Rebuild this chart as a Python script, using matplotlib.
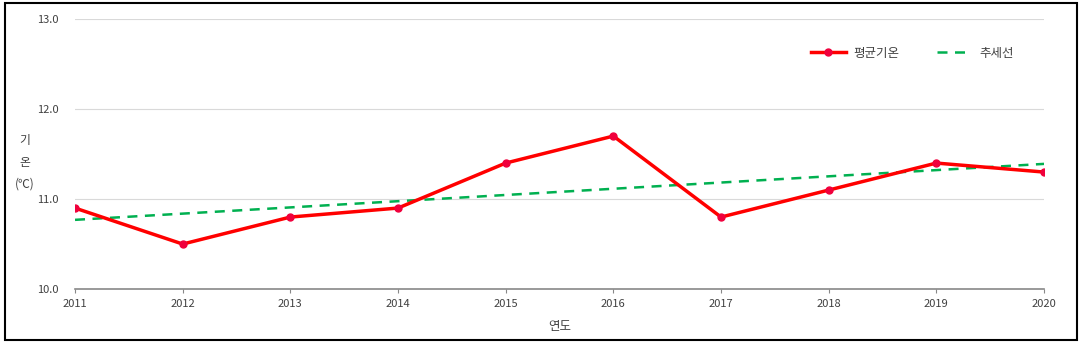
import numpy as np
import matplotlib.pyplot as plt
from matplotlib.patches import Rectangle

plt.rcParams['font.family'] = ['Noto Sans CJK KR', 'DejaVu Sans']

years = [2011, 2012, 2013, 2014, 2015, 2016, 2017, 2018, 2019, 2020]
temps = [10.9, 10.5, 10.8, 10.9, 11.4, 11.7, 10.8, 11.1, 11.4, 11.3]

# linear trend of the yearly mean temperature
coef = np.polyfit(years, temps, 1)
trend = np.polyval(coef, years)

fig = plt.figure(figsize=(10.81, 3.47), dpi=100)
ax = fig.add_axes([0.0694, 0.167, 0.8964, 0.778])

ax.plot(years, temps, color='#ff0000', lw=2.5, marker='o', ms=5,
        mfc='#f0003c', mec='#f0003c', label='평균기온', zorder=3)
ax.plot(years, trend, color='#00b050', lw=1.8, ls=(0, (4, 3)),
        label='추세선', zorder=2)

ax.set_xlim(2011, 2020)
ax.set_ylim(10.0, 13.0)
ax.set_xticks(years)
ax.set_yticks([10.0, 11.0, 12.0, 13.0])
ax.set_yticklabels(['10.0', '11.0', '12.0', '13.0'])
ax.grid(axis='y', color='#d9d9d9', lw=0.8)
ax.set_axisbelow(True)

for s in ['top', 'right', 'left']:
    ax.spines[s].set_visible(False)
ax.spines['bottom'].set_color('#888888')
ax.spines['bottom'].set_linewidth(1.2)
ax.tick_params(axis='x', length=3, color='#888888', labelsize=8, pad=4,
               labelcolor='#404040')
ax.tick_params(axis='y', length=0, labelsize=8, pad=12, labelcolor='#404040')

ax.set_xlabel('연도', fontsize=9, labelpad=8, color='#404040')
ax.text(-0.052, 0.47, '기\n온\n(℃)', transform=ax.transAxes, fontsize=8.5,
        ha='center', va='center', linespacing=1.85, color='#404040')

ax.legend(loc='center', bbox_to_anchor=(0.864, 0.874), ncol=2, frameon=False,
          fontsize=9, handlelength=2.8, columnspacing=3.0, handletextpad=0.6,
          labelcolor='#404040')

fig.patches.append(Rectangle((5 / 1081, 7 / 347), 1072 / 1081, 337 / 347,
                             transform=fig.transFigure, fill=False,
                             edgecolor='black', lw=1.5))

fig.savefig('out.png', dpi=100)
